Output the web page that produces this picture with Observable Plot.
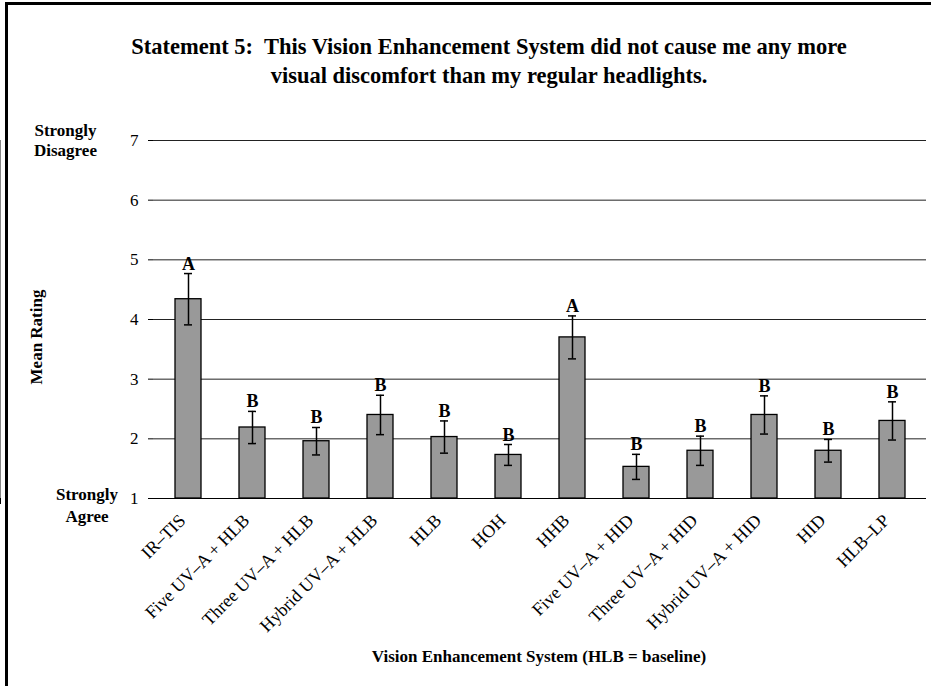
<!DOCTYPE html>
<html>
<head>
<meta charset="utf-8">
<script src="https://cdn.jsdelivr.net/npm/d3@7"></script>
<script src="https://cdn.jsdelivr.net/npm/@observablehq/plot@0.6"></script>
<style>
  html, body { margin: 0; padding: 0; background: #fff; }
  #wrap { position: relative; width: 931px; height: 686px; overflow: hidden; font-family: 'Liberation Serif', 'Times New Roman', serif; color: #000; }
  .lbl { position: absolute; font-family: 'Liberation Serif', 'Times New Roman', serif; font-weight: bold; font-size: 17px; white-space: nowrap; }
  #title { position: absolute; left: 0; width: 978px; top: 32px; text-align: center; font-family: 'Liberation Serif', 'Times New Roman', serif; font-weight: bold; font-size: 22.5px; line-height: 29px; }
  #bl { position: absolute; left: 5px; top: 2px; width: 3px; height: 686px; background: #000; }
  #bt { position: absolute; left: 5px; top: 2px; width: 926px; height: 3px; background: #000; }
</style>
</head>
<body>
<div id="wrap">
  <div id="chart"></div>
  <div id="bl"></div>
  <div id="bt"></div>
  <div id="title">Statement 5:&nbsp; This Vision Enhancement System did not cause me any more<br>visual discomfort than my regular headlights.</div>
  <div class="lbl" style="left:34px; top:121px; line-height:20px; text-align:center;">Strongly<br>Disagree</div>
  <div class="lbl" style="left:56px; top:484px; line-height:22px; text-align:center;">Strongly<br>Agree</div>
  <div class="lbl" style="left:37px; top:337px; transform: translate(-50%,-50%) rotate(-90deg);">Mean Rating</div>
  <div class="lbl" style="left:539px; top:647px; transform: translateX(-50%);">Vision Enhancement System (HLB = baseline)</div>
</div>
<script>
const categories = ["IR–TIS", "Five UV–A + HLB", "Three UV–A + HLB", "Hybrid UV–A + HLB", "HLB", "HOH", "HHB", "Five UV–A + HID", "Three UV–A + HID", "Hybrid UV–A + HID", "HID", "HLB–LP"];
const means = [4.34, 2.19, 1.96, 2.40, 2.03, 1.73, 3.70, 1.53, 1.80, 2.40, 1.80, 2.30];
const errors = [0.43, 0.27, 0.23, 0.33, 0.27, 0.175, 0.36, 0.21, 0.245, 0.32, 0.19, 0.32];
const groups = ["A", "B", "B", "B", "B", "B", "A", "B", "B", "B", "B", "B"];
const yTicks = [1, 2, 3, 4, 5, 6, 7];
const gridValues = [2, 3, 4, 5, 6, 7];

const data = categories.map((c, i) => ({cat: c, mean: means[i], err: errors[i], grp: groups[i]}));

const W = 931, H = 686, ML = 153, MR = 5, MT = 140, MB = 188;
const PAD_IN = 0.6, PAD_OUT = 0.3;

function frameDecor(index, scales, values, dimensions) {
  const x = scales.x;
  const step = (dimensions.width - dimensions.marginLeft - dimensions.marginRight) / categories.length;
  const bw = x.bandwidth != null ? x.bandwidth : step * (1 - PAD_IN);
  const y0 = scales.y(1), y7 = scales.y(7);
  const g = d3.create("svg:g");
  const bounds = categories.map(c => x(c) - (step - bw) / 2);
  bounds.push(x(categories[categories.length - 1]) + bw + (step - bw) / 2);
  g.selectAll("line.t").data(bounds).join("line")
    .attr("x1", d => d).attr("x2", d => d)
    .attr("y1", y0).attr("y2", y0 + 6)
    .attr("stroke", "#000").attr("stroke-width", 1);
  g.append("line").attr("x1", bounds[0]).attr("x2", bounds[0]).attr("y1", y7).attr("y2", y0)
    .attr("stroke", "#000").attr("stroke-width", 1);
  const r = bounds[bounds.length - 1];
  g.append("line").attr("x1", r).attr("x2", r).attr("y1", y7).attr("y2", y0)
    .attr("stroke", "#888").attr("stroke-width", 1.5);
  return g.node();
}

const chart = Plot.plot({
  width: W,
  height: H,
  marginLeft: ML,
  marginRight: MR,
  marginTop: MT,
  marginBottom: MB,
  style: {fontFamily: "'Liberation Serif', 'Times New Roman', serif", fontSize: "17px", color: "#000", background: "transparent"},
  x: {domain: categories, paddingInner: PAD_IN, paddingOuter: PAD_OUT, label: null},
  y: {domain: [1, 7], label: null},
  marks: [
    Plot.ruleY(gridValues, {stroke: "#222", strokeWidth: 1}),
    Plot.barY(data, {x: "cat", y1: 1, y2: "mean", fill: "#999999", stroke: "#000", strokeWidth: 1.3}),
    Plot.ruleX(data, {x: "cat", y1: d => d.mean - d.err, y2: d => d.mean + d.err, stroke: "#000", strokeWidth: 1.5}),
    Plot.tickY(data, {x: "cat", y: d => d.mean + d.err, stroke: "#000", strokeWidth: 1.5, insetLeft: 9, insetRight: 9}),
    Plot.tickY(data, {x: "cat", y: d => d.mean - d.err, stroke: "#000", strokeWidth: 1.5, insetLeft: 9, insetRight: 9}),
    Plot.text(data, {x: "cat", y: d => d.mean + d.err, text: "grp", dy: -4, lineAnchor: "bottom", fontWeight: "bold", fontSize: 18, fill: "#000"}),
    Plot.ruleY([1], {stroke: "#000", strokeWidth: 1}),
    frameDecor,
    Plot.axisY({ticks: yTicks, tickSize: 5, tickPadding: 10, tickFormat: d => String(d), fontSize: 17, label: null, stroke: "#000"}),
    Plot.axisX({tickSize: 0, tickPadding: 19, dx: -6, tickRotate: -45, fontSize: 18, label: null})
  ]
});
document.getElementById("chart").appendChild(chart);
</script>
</body>
</html>
